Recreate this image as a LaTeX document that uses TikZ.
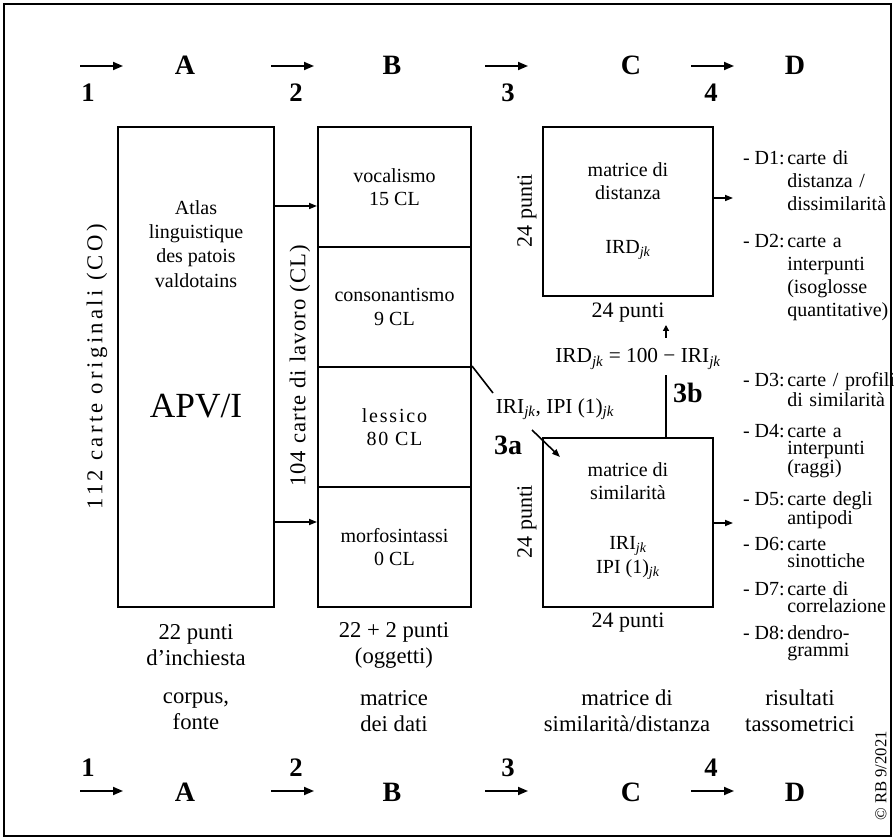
\documentclass[tikz,border=0pt]{standalone}
\usepackage{fontspec}
\setmainfont{Liberation Serif}
\usetikzlibrary{arrows.meta,positioning,calc,fit}
\newcommand{\jk}{\textsubscript{\itshape jk}}
\tikzset{
  box/.style={rectangle, draw=black, line width=1.5pt, inner sep=0pt},
  boxtxt/.style={align=center, inner sep=0pt, font=\fontsize{15}{17.5}\selectfont},
  capt/.style={align=center, inner sep=0pt, font=\fontsize{17}{19.5}\selectfont},
  stage/.style={inner sep=0pt, font=\fontsize{21}{24}\selectfont\bfseries},
  stepno/.style={inner sep=0pt, font=\fontsize{20}{24}\selectfont\bfseries},
  vlabel/.style={rotate=90, inner sep=0pt, font=\fontsize{17}{20}\selectfont},
  flow/.style={-{Triangle[length=7.5pt, width=6pt]}, line width=1.3pt},
  feed/.style={-{Triangle[length=6pt, width=4.5pt]}, line width=1.2pt},
}

\begin{document}
\setlength{\lineskiplimit}{-20pt}
\begin{tikzpicture}[x=0.75pt, y=-0.75pt,
  dlab/.style={anchor=base east, inner sep=0pt, font=\fontsize{15}{17}\selectfont},
  ditem/.style={anchor=base west, inner sep=0pt, align=left, text width=85pt,
    font=\fontsize{15}{17.25}\selectfont},
  dtight/.style={ditem, font=\fontsize{15}{13}\selectfont}]
  \useasboundingbox (0,0) rectangle (894,838);
  \node[box, fit={(4,4)(891,836)}] (frame) {};
  % steps and stages, top and bottom
  \foreach \s/\xa/\xn/\xl/\lt in {1/80/88/185/A, 2/271/296/392/B, 3/485/508/631/C, 4/691/711/795/D} {
    \coordinate (ts\s) at (\xa,66);
    \coordinate (te\s) at (\xa+43,66);
    \draw[flow] (ts\s) -- (te\s);
    \node[stepno] (tn\s) at (\xn,93) {\s};
    \node[stage] (tl\s) at (\xl,65) {\lt};
    \coordinate (bs\s) at (\xa,791);
    \coordinate (be\s) at (\xa+43,791);
    \draw[flow] (bs\s) -- (be\s);
    \node[stepno] (bn\s) at (\xn,768) {\s};
    \node[stage] (bl\s) at (\xl,792) {\lt};
  }
  % A: corpus
  \node[box, fit={(118,127)(274,607)}] (apv) {};
  \node[boxtxt, font=\fontsize{15}{18.2}\selectfont] (atlas) at (196,244)
    {Atlas\\linguistique\\des patois\\valdotains};
  \node[inner sep=0pt, font=\fontsize{26.5}{30}\selectfont] (apvname) at (196,406) {APV/I};
  \node[vlabel, font=\fontsize{17}{20}\selectfont\addfontfeature{LetterSpace=15}] (co) at (97,367)
    {112 carte originali (CO)};
  \node[capt] (ptA) at (196,645) {22 punti\\d’inchiesta};
  \node[capt] (capA) at (196,711) {corpus,\\fonte};
  % B: data matrix
  \foreach \n/\t/\b in {voc/127/247, cons/247/367, lex/367/487, morf/487/607}
    \node[box, fit={(318,\t)(471,\b)}] (\n) {};
  \node[boxtxt] (voct) at (voc) {vocalismo\\15 CL};
  \node[boxtxt] (const) at (cons) {consonantismo\\9 CL};
  \node[boxtxt, font=\fontsize{15}{17.5}\selectfont\addfontfeature{LetterSpace=9}] (lext) at (lex)
    {lessico\\80 CL};
  \node[boxtxt] (morft) at (morf) {morfosintassi\\0 CL};
  \node[vlabel, font=\fontsize{17}{20}\selectfont\addfontfeature{LetterSpace=5}] (cl) at (300,366)
    {104 carte di lavoro (CL)};
  \node[capt] (ptB) at (394,645) {22 + 2 punti\\(oggetti)};
  \node[capt] (capB) at (394,711) {matrice\\dei dati};
  \coordinate (ab1) at (274,206);
  \coordinate (ab2) at (274,522);
  \draw[feed] (ab1) -- (ab1 -| voc.west);
  \draw[feed] (ab2) -- (ab2 -| morf.west);
  % C: distance and similarity matrices
  \node[box, fit={(543,127)(713,296)}] (dist) {};
  \node[boxtxt] (distt) at (628,181) {matrice di\\distanza};
  \node[boxtxt] (ird) at (628,250) {IRD\jk};
  \node[vlabel, font=\fontsize{16.5}{20}\selectfont] (dv) at (527,211) {24 punti};
  \node[inner sep=0pt, font=\fontsize{16.5}{20}\selectfont] (dh) at (628,313) {24 punti};
  \node[box, fit={(543,438)(713,607)}] (sim) {};
  \node[boxtxt] (simt) at (628,481) {matrice di\\similarità};
  \node[boxtxt] (iri) at (628,558) {IRI\jk\\IPI (1)\jk};
  \node[vlabel, font=\fontsize{16.5}{20}\selectfont] (sv) at (527,522) {24 punti};
  \node[inner sep=0pt, font=\fontsize{16.5}{20}\selectfont] (sh) at (628,623) {24 punti};
  \node[capt] (capC) at (627,711) {matrice di\\similarità/distanza};
  % 3a and 3b
  \coordinate (kink) at (493,393);
  \draw[line width=1.2pt] (lex.north east) -- (kink);
  \node[inner sep=0pt, font=\fontsize{16}{20}\selectfont] (irilab) at (555,409) {IRI\jk, IPI (1)\jk};
  \node[stepno, font=\fontsize{21}{24}\selectfont\bfseries] (s3a) at (508,445) {3a};
  \coordinate (a3a) at (532,430);
  \draw[feed] (a3a) -- ($(sim.north west)+(18,20)$);
  \coordinate (top3b) at (666,375);
  \draw[line width=1.2pt] (sim.north -| top3b) -- (top3b);
  \node[stepno, font=\fontsize{21}{24}\selectfont\bfseries] (s3b) at (688,393) {3b};
  \node[inner sep=0pt, font=\fontsize{16}{20}\selectfont] (irdlab) at (638,359) {IRD\jk\ = 100 − IRI\jk};
  \coordinate (up3b) at (666,338);
  \coordinate (tip3b) at (666,325);
  \draw[-{Triangle[length=4.5pt, width=4.5pt]}, line width=1pt] (up3b) -- (tip3b);
  % D: results
  \coordinate (cd1) at (733,198);
  \coordinate (cd2) at (733,523);
  \draw[feed] (cd1 -| dist.east) -- (cd1);
  \draw[feed] (cd2 -| sim.east) -- (cd2);
  \foreach \k/\y/\txt in {1/165/{carte di\\distanza /\\dissimilarità},
      2/248/{carte a\\interpunti\\(isoglosse\\quantitative)}} {
    \node[dlab] (dl\k) at (785,\y) {- D\k:};
    \node[ditem] (d\k) at (787,\y) {\txt};
  }
  \foreach \k/\y/\txt in {3/387/{carte / profili\\di similarità},
      4/437/{carte a\\interpunti\\(raggi)},
      5/505/{carte degli\\antipodi},
      6/550/{carte\\sinottiche},
      7/595/{carte di\\correlazione},
      8/639/{dendro-\\grammi}} {
    \node[dlab] (dl\k) at (785,\y) {- D\k:};
    \node[dtight] (d\k) at (787,\y) {\txt};
  }
  \node[capt] (capD) at (800,711) {risultati\\tassometrici};
  \node[rotate=90, inner sep=1pt, fill=white, font=\fontsize{12.5}{15}\selectfont] (copy) at (881,776)
    {© RB 9/2021};
\end{tikzpicture}
\end{document}
